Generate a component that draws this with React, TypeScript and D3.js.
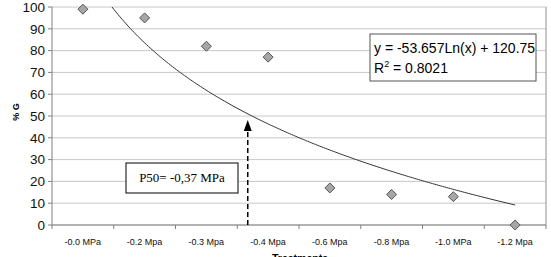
import React from "react";
import * as d3 from "d3";

const categories = ["-0.0 MPa", "-0.2 Mpa", "-0.3 Mpa", "-0.4 Mpa", "-0.6 Mpa", "-0.8 Mpa", "-1.0 MPa", "-1.2 Mpa"];
const germination = [99, 95, 82, 77, 17, 14, 13, 0];
const yTicks = [0, 10, 20, 30, 40, 50, 60, 70, 80, 90, 100];
const trendA = -53.657;
const trendB = 120.75;
const p50X = 3.67;

export default function App() {
  const W = 551, H = 257;
  const left = 52, right = 546, top = 7, bottom = 225;
  const band = (right - left) / categories.length;
  const xIdx = d3.scaleLinear().domain([0.5, categories.length + 0.5]).range([left, right]);
  const y = d3.scaleLinear().domain([0, 100]).range([bottom, top]);

  const trendPts: [number, number][] = [];
  const xStart = Math.exp((trendB - 100) / -trendA);
  for (let i = 0; i <= 200; i++) {
    const xv = xStart + (categories.length - xStart) * (i / 200);
    trendPts.push([xIdx(xv), y(trendA * Math.log(xv) + trendB)]);
  }
  const line = d3.line();
  const ax = xIdx(p50X);
  const aTip = 120;

  return (
    <svg width={W} height={H} style={{ position: "absolute", left: 0, top: 0 }} fontFamily="Arial, Liberation Sans, sans-serif">
      <rect x={0} y={0} width={W} height={H} fill="#fff" />
      {yTicks.map((t) => (
        <line key={t} x1={left} x2={right} y1={y(t)} y2={y(t)} stroke="#c8c8c8" strokeWidth={1} />
      ))}
      <line x1={right} x2={right} y1={top} y2={bottom} stroke="#909090" strokeWidth={1} />
      <line x1={left} x2={left} y1={top} y2={bottom} stroke="#808080" strokeWidth={1} />
      <line x1={left} x2={right} y1={bottom} y2={bottom} stroke="#808080" strokeWidth={1} />
      {yTicks.map((t) => (
        <g key={"yt" + t}>
          <line x1={left - 4} x2={left} y1={y(t)} y2={y(t)} stroke="#808080" />
          <text x={left - 7} y={y(t)} dy="0.35em" textAnchor="end" fontSize={13.5} fill="#111">{t}</text>
        </g>
      ))}
      {d3.range(categories.length + 1).map((i) => (
        <line key={"xt" + i} x1={left + i * band} x2={left + i * band} y1={bottom} y2={bottom + 4} stroke="#808080" />
      ))}
      {categories.map((c, i) => (
        <text key={c} x={xIdx(i + 1)} y={245} textAnchor="middle" fontSize={9} fill="#111">{c}</text>
      ))}
      <path d={line(trendPts) || ""} fill="none" stroke="#333" strokeWidth={1} />
      {germination.map((v, i) => {
        const cx = xIdx(i + 1), cy = y(v), r = 5;
        return (
          <path key={i} d={`M${cx},${cy - r}L${cx + r},${cy}L${cx},${cy + r}L${cx - r},${cy}Z`} fill="#a6a6a6" stroke="#555" strokeWidth={1} />
        );
      })}
      <line x1={ax} x2={ax} y1={bottom} y2={aTip + 10} stroke="#000" strokeWidth={1.5} strokeDasharray="5,3" />
      <path d={`M${ax},${aTip}L${ax + 4},${aTip + 11}L${ax - 4},${aTip + 11}Z`} fill="#000" />
      <rect x={126} y={163} width={112} height={30} fill="#fff" stroke="#000" strokeWidth={1} />
      <text x={182} y={182} textAnchor="middle" fontSize={13} fontFamily="Liberation Serif, Times New Roman, serif">P50= -0,37 MPa</text>
      <rect x={370} y={34} width={166} height={47} fill="#fff" stroke="#555" strokeWidth={1} />
      <text x={374} y={53} fontSize={14}>y = -53.657Ln(x) + 120.75</text>
      <text x={374} y={73} fontSize={14}>R<tspan fontSize={9} dy={-6}>2</tspan><tspan dy={6}> = 0.8021</tspan></text>
      <text transform={`translate(19,112) rotate(-90)`} textAnchor="middle" fontSize={9} fontWeight="bold">% G</text>
      <text x={300} y={262} textAnchor="middle" fontSize={10.5} fontWeight="bold">Treatments</text>
    </svg>
  );
}
